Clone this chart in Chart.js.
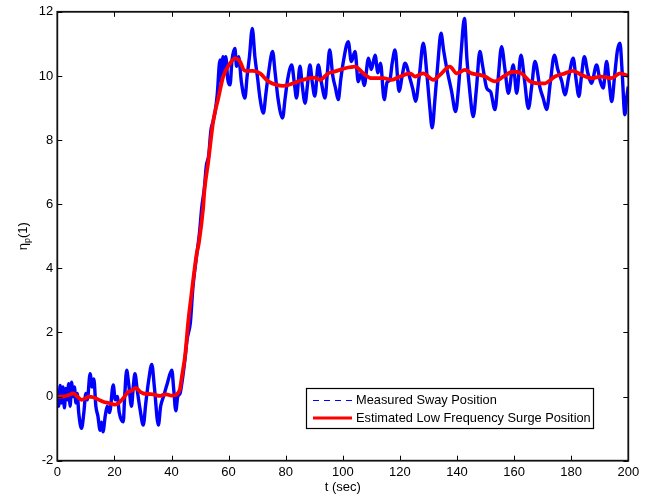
<!DOCTYPE html>
<html>
<head>
<meta charset="utf-8">
<script src="https://cdn.jsdelivr.net/npm/chart.js@4/dist/chart.umd.min.js"></script>
<style>
  html, body { margin: 0; padding: 0; background: #fff; }
  #c { display: block; }
</style>
</head>
<body>
<canvas id="c" width="656" height="497"></canvas>
<script>
// ---- data ----
const swayLabel = 'Measured Sway Position';
const surgeLabel = 'Estimated Low Frequency Surge Position';

const swayT = [0,0.5,1,1.5,2,2.5,3,3.5,4,4.5,5,5.5,6,6.5,7,7.5,8.5,9.3,10,10.5,11.5,12.2,12.8,13.5,14.2,15,15.5,16,16.8,17.5,18.3,19.6,20.3,21,21.7,23.1,23.6,24.3,25,26,26.6,27.2,28,29,30.1,31,32,33.1,34,35.4,36.2,37.2,38.5,40.1,40.8,41.5,42.2,43,43.6,44.5,45.5,46.6,47.5,48.8,49.8,50.6,51.5,52.2,53,53.8,54.6,55.3,56,57,57.5,58,58.5,59,59.7,60.5,61.2,62.2,62.8,63.5,64.5,65.7,66.5,67.3,68.3,69.2,70.2,71,72.2,73,74,75.4,76.3,77.3,78.9,79.8,80.7,82.1,83,83.8,85,85.8,86.8,87.6,88.5,89.3,90.2,91.4,92.5,93.8,94.6,95.4,96.5,97.5,98.4,99.3,100.2,101.9,103,104.3,105.4,106.5,107.5,109,110,111.3,112.3,113.2,114.5,115.5,116.5,117.3,118.3,119.7,120.8,121.8,123.5,124.5,125.5,126.8,128.2,129.5,130.5,131.3,132.3,133.3,134.4,135.3,136.4,138.1,139.5,140.5,141.5,142.6,143.5,144.5,145.7,146.8,148,149,150.4,151.8,153.3,154.4,155.6,156.8,158,159.7,160.9,162.4,163.6,165,166.2,167.3,169.1,170.2,171.4,172.7,174.1,175.3,176.7,177.8,179.2,180.7,181.7,182.7,183.6,184.6,185.8,187.1,188.9,190,191.2,192.4,193.3,194.2,195.2,196.2,197.1,197.8,198.8,199.4,200];
const swayV = [0.1,-0.3,0.35,-0.2,0.3,-0.35,0.25,-0.1,0.4,-0.3,0.45,0.0,0.3,-0.2,0.1,-0.5,-0.99,-0.5,0.1,-0.1,0.71,0.3,0.55,-0.3,-0.6,-1.05,-0.8,-1.1,-0.6,-0.3,-0.5,0.36,-0.1,0.0,-0.5,-0.79,0.0,0.82,0.4,-0.3,0.3,0.71,0.2,-0.4,-0.89,-0.2,0.5,1.0,0.3,-0.89,-0.3,0.0,0.4,0.82,0.2,-0.44,0.0,0.1,0.4,1.0,1.8,2.3,3.4,4.4,5.1,5.9,6.5,7.2,7.5,8.3,8.6,8.9,9.4,10.5,9.8,10.6,10.1,10.6,9.9,9.72,10.5,10.86,10.3,10.6,9.8,9.31,10.0,10.6,11.48,10.6,9.9,9.3,8.84,9.4,10.1,10.76,10.1,9.3,8.69,9.3,9.9,10.34,9.8,9.31,10.3,9.7,9.15,9.7,10.34,9.8,9.37,10.34,9.8,9.31,10.1,10.81,10.0,9.6,9.26,9.9,10.45,11.07,10.45,10.76,9.82,10.1,9.7,10.55,10.2,10.65,10.1,10.4,9.26,9.8,9.88,10.4,10.81,9.52,10.0,10.4,9.93,9.6,9.21,10.0,11.02,10.0,9.0,8.38,9.3,10.4,11.33,10.8,10.24,9.52,8.89,9.6,10.8,11.79,10.5,9.5,8.73,9.6,10.76,10.3,9.62,9.5,8.95,9.9,10.91,10.2,9.46,10.34,9.46,10.65,9.9,8.99,9.7,10.45,9.62,9.3,8.95,9.8,10.65,10.2,9.83,9.41,10.0,10.55,9.9,9.36,10.0,10.6,10.1,9.77,10.34,9.9,9.62,10.45,9.8,9.2,10.0,10.8,11.02,10.2,8.79,9.3,9.67];

const surgeT = [0,2,4,5.6,7,8.5,10,11,12.5,13.8,16.1,18,20.2,21.5,23.1,24.9,26,27.5,29,30.1,32,33.6,35.9,37,38.3,40,41.2,42.2,43,43.6,44.8,45.9,46.6,48.8,49.6,51.1,51.5,52.9,54.6,56.4,58.1,60.5,62.2,64,65.2,66.3,68.6,71,73.9,76.8,79.2,82.7,85,88.5,90,92,94.9,97.3,100.8,104.3,107.2,110.1,114.2,117.1,120,123.5,125.3,128.2,131.7,134,137.5,139.9,142.8,145.1,148,149.8,153.3,156.2,159.7,162.6,165.6,168.5,170.8,174.3,177.8,180.7,183.6,187.1,190.6,194.1,197.1,200];
const surgeV = [0.0,0.0,0.05,0.1,0.0,-0.1,-0.05,0.0,-0.02,-0.07,-0.16,-0.2,-0.25,-0.2,-0.05,0.15,0.18,0.27,0.15,0.1,0.08,0.07,0.02,0.05,0.07,0.03,0.04,0.1,0.25,0.6,1.3,2.37,2.9,4.44,4.8,5.9,6.4,7.34,8.58,9.31,9.98,10.39,10.55,10.45,10.2,10.15,10.16,10.08,9.83,9.72,9.69,9.77,9.85,9.93,9.95,9.88,10.08,10.14,10.24,10.29,10.08,9.93,9.93,9.88,9.98,10.08,9.98,10.08,9.88,10.03,10.29,10.08,10.19,10.08,10.03,9.98,9.83,9.98,10.13,10.08,9.83,9.77,9.77,9.98,10.08,10.16,10.03,9.93,9.98,9.93,10.08,10.0];

const xTickValues = [0,20,40,60,80,100,120,140,160,180,200];
const xTickLabels = ['0','20','40','60','80','100','120','140','160','180','200'];
const yTickValues = [-2,0,2,4,6,8,10,12];
const yTickLabels = ['-2','0','2','4','6','8','10','12'];
const xTitle = 't (sec)';
const yTitleMain = 'η', yTitleSub = 'p', yTitleTail = '(1)';

// ---- build chart ----
const toXY = (ts, vs) => ts.map((t, i) => ({ x: t, y: vs[i] }));
const FONT = '"Liberation Sans", Arial, Helvetica, sans-serif';

const framePlugin = {
  id: 'frame',
  afterDraw(chart) {
    const { ctx, chartArea: a, scales } = chart;
    const xs = scales.x, ys = scales.y;
    ctx.save();
    ctx.strokeStyle = '#000';
    ctx.lineWidth = 1;
    const tl = 5;
    xTickValues.forEach(v => {
      const px = Math.round(xs.getPixelForValue(v)) + 0.5;
      ctx.beginPath();
      ctx.moveTo(px, a.bottom); ctx.lineTo(px, a.bottom - tl);
      ctx.moveTo(px, a.top); ctx.lineTo(px, a.top + tl);
      ctx.stroke();
    });
    yTickValues.forEach(v => {
      const py = Math.round(ys.getPixelForValue(v)) + 0.5;
      ctx.beginPath();
      ctx.moveTo(a.left, py); ctx.lineTo(a.left + tl, py);
      ctx.moveTo(a.right, py); ctx.lineTo(a.right - tl, py);
      ctx.stroke();
    });
    ctx.lineWidth = 1.8;
    ctx.strokeStyle = '#111';
    ctx.strokeRect(a.left, a.top, a.right - a.left, a.bottom - a.top);

    // y axis title with subscript
    ctx.fillStyle = '#000';
    ctx.textBaseline = 'alphabetic';
    const mainF = '13px ' + FONT, subF = '9px ' + FONT;
    ctx.font = mainF; const w1 = ctx.measureText(yTitleMain).width;
    ctx.font = subF;  const w2 = ctx.measureText(yTitleSub).width;
    ctx.font = mainF; const w3 = ctx.measureText(yTitleTail).width;
    const tot = w1 + w2 + w3;
    ctx.translate(27, (a.top + a.bottom) / 2);
    ctx.rotate(-Math.PI / 2);
    let x0 = -tot / 2;
    ctx.font = mainF; ctx.fillText(yTitleMain, x0, 0); x0 += w1;
    ctx.font = subF;  ctx.fillText(yTitleSub, x0, 3); x0 += w2;
    ctx.font = mainF; ctx.fillText(yTitleTail, x0, 0);
    ctx.restore();

    // legend box (inside axes, lower right)
    ctx.save();
    const L = 306, T = 388, R = 593, B = 428;
    ctx.fillStyle = '#fff';
    ctx.fillRect(L, T, R - L, B - T);
    ctx.lineWidth = 1.2;
    ctx.strokeStyle = '#000';
    ctx.strokeRect(L + 0.5, T + 0.5, R - L, B - T);
    const rows = [T + 12.5, T + 30];
    chart.data.datasets.forEach((ds, i) => {
      const y = rows[i];
      ctx.beginPath();
      ctx.setLineDash(ds.legendDash || []);
      ctx.lineWidth = ds.legendWidth;
      ctx.strokeStyle = ds.borderColor;
      ctx.moveTo(313, y); ctx.lineTo(352, y);
      ctx.stroke();
      ctx.setLineDash([]);
      ctx.fillStyle = '#000';
      ctx.font = '12.8px ' + FONT;
      ctx.textBaseline = 'middle';
      ctx.textAlign = 'left';
      ctx.fillText(ds.label, 356, y);
    });
    ctx.restore();
  }
};

new Chart(document.getElementById('c'), {
  type: 'line',
  data: {
    datasets: [
      {
        label: swayLabel,
        data: toXY(swayT, swayV),
        borderColor: '#0000ff',
        borderWidth: 3.4,
        pointRadius: 0,
        cubicInterpolationMode: 'monotone',
        order: 1,
        legendDash: [6, 5],
        legendWidth: 1
      },
      {
        label: surgeLabel,
        data: toXY(surgeT, surgeV),
        borderColor: '#ff0000',
        borderWidth: 3.8,
        pointRadius: 0,
        cubicInterpolationMode: 'monotone',
        order: 0,
        legendWidth: 3
      }
    ]
  },
  options: {
    responsive: false,
    animation: false,
    devicePixelRatio: 1,
    layout: { padding: { top: 10, right: 27.7, left: 0, bottom: 0 } },
    plugins: { legend: { display: false }, tooltip: { enabled: false } },
    scales: {
      x: {
        type: 'linear', min: 0, max: 200,
        afterFit: s => { s.height = 36.3; },
        afterBuildTicks: s => { s.ticks = xTickValues.map(v => ({ value: v })); },
        grid: { display: false, drawTicks: false },
        border: { display: false },
        ticks: {
          padding: 4, color: '#000', maxRotation: 0, autoSkip: false,
          font: { family: FONT, size: 13 },
          callback: v => xTickLabels[xTickValues.indexOf(v)]
        },
        title: {
          display: true, text: xTitle, color: '#000',
          font: { family: FONT, size: 13 },
          padding: { top: 0, bottom: 2 }
        }
      },
      y: {
        type: 'linear', min: -2, max: 12,
        afterFit: s => { s.width = 57.3; },
        afterBuildTicks: s => { s.ticks = yTickValues.map(v => ({ value: v })); },
        grid: { display: false, drawTicks: false },
        border: { display: false },
        ticks: {
          padding: 4, color: '#000', autoSkip: false,
          font: { family: FONT, size: 13 },
          callback: v => yTickLabels[yTickValues.indexOf(v)]
        }
      }
    }
  },
  plugins: [framePlugin]
});
</script>
</body>
</html>
